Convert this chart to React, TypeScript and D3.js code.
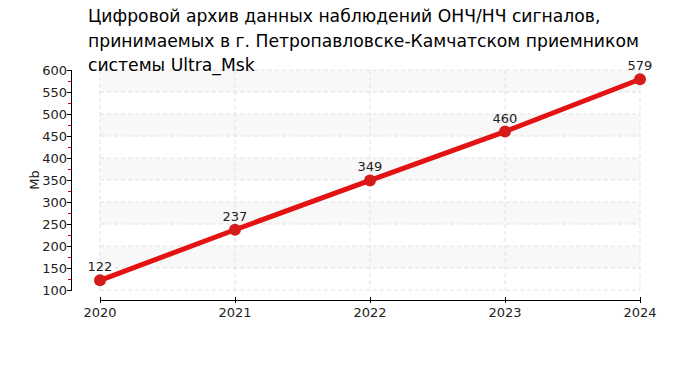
import React from 'react';
import * as d3 from 'd3';

const years = ['2020', '2021', '2022', '2023', '2024'];
const sizes = [122, 237, 349, 460, 579];
const yTicks = [100, 150, 200, 250, 300, 350, 400, 450, 500, 550, 600];
const titleLines = [
  'Цифровой архив данных наблюдений ОНЧ/НЧ сигналов,',
  'принимаемых в г. Петропавловске-Камчатском приемником',
  'системы Ultra_Msk',
];

const W = 700;
const H = 375;
const font = 'DejaVu Sans, Verdana, sans-serif';

const App = () => {
  const x = d3.scalePoint().domain(years).range([100, 640]);
  const y = d3.scaleLinear().domain([100, 600]).range([290, 70]);
  const minor = d3.range(125, 600, 50);
  const bands = d3.range(150, 600, 100);

  const line = d3
    .line<number>()
    .x((d, i) => x(years[i]) as number)
    .y(d => y(d));

  return (
    <svg width={W} height={H} style={{position: 'absolute', left: 0, top: 0}} fontFamily={font}>
      <rect width={W} height={H} fill="#fff" />
      {bands.map(b => (
        <rect key={b} x={100} width={540} y={y(b + 50)} height={y(b) - y(b + 50)} fill="#f8f8f8" />
      ))}
      {yTicks.map(t => (
        <line key={t} x1={100} x2={640} y1={y(t)} y2={y(t)} stroke="#e2e2e2" strokeDasharray="4,3" />
      ))}
      {years.map(yr => (
        <line key={yr} x1={x(yr)} x2={x(yr)} y1={70} y2={290} stroke="#e2e2e2" strokeDasharray="4,3" />
      ))}

      {/* y axis */}
      <line x1={71.5} x2={71.5} y1={y(600)} y2={y(100)} stroke="#000" />
      {minor.map(t => (
        <line key={t} x1={68} x2={71} y1={y(t) + 0.5} y2={y(t) + 0.5} stroke="#e00000" />
      ))}
      {yTicks.map(t => (
        <g key={t}>
          <line x1={67} x2={72} y1={y(t) + 0.5} y2={y(t) + 0.5} stroke="#000" />
          <text x={67} y={y(t) + 5} textAnchor="end" fontSize={13} fill="#222">{t}</text>
        </g>
      ))}
      <text transform="translate(39,180) rotate(-90)" textAnchor="middle" fontSize={13} fill="#222">Mb</text>

      {/* x axis */}
      <line x1={100} x2={640} y1={300.5} y2={300.5} stroke="#000" />
      {years.map(yr => (
        <g key={yr}>
          <line x1={(x(yr) as number) + 0.5} x2={(x(yr) as number) + 0.5} y1={297} y2={303} stroke="#000" />
          <text x={x(yr)} y={317} textAnchor="middle" fontSize={13} fill="#222">{yr}</text>
        </g>
      ))}

      <path d={line(sizes) || ''} fill="none" stroke="#e41313" strokeWidth={5} strokeLinejoin="round" />
      {sizes.map((v, i) => (
        <g key={i}>
          <circle cx={x(years[i])} cy={y(v)} r={6} fill="#d41c1c" />
          <text x={x(years[i])} y={y(v) - 9} textAnchor="middle" fontSize={13} fill="#222">{v}</text>
        </g>
      ))}

      {titleLines.map((t, i) => (
        <text key={i} x={88} y={22 + i * 24.5} fontSize={17.2} fill="#000">{t}</text>
      ))}
    </svg>
  );
};

export default App;
